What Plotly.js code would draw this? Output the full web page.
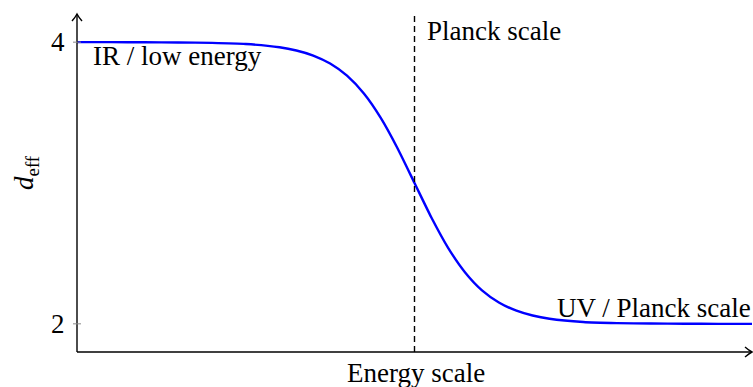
<!DOCTYPE html>
<html>
<head>
<meta charset="utf-8">
<script src="https://cdn.plot.ly/plotly-3.0.1.min.js"></script>
<style>html,body{margin:0;padding:0;background:#fff;}#chart{width:753px;height:387px;}</style>
</head>
<body>
<div id="chart"></div>
<script>
// Energy scale (arbitrary units) and effective dimension
const energy = [0, 0.5, 1, 1.5, 2, 2.5, 3, 3.25, 3.5, 3.75, 4, 4.25, 4.5, 4.75, 5, 5.25, 5.5, 5.75, 6, 6.25, 6.5, 6.75, 7, 7.5, 8, 8.5, 9, 9.5, 10];
const dEff   = [4.000, 4.000, 3.999, 3.998, 3.995, 3.987, 3.964, 3.941, 3.905, 3.848, 3.762, 3.635, 3.462, 3.245, 3.000, 2.755, 2.538, 2.365, 2.238, 2.152, 2.095, 2.059, 2.036, 2.013, 2.005, 2.002, 2.001, 2.000, 2.000];
const plancklineX = 5;
const yTicks = [4, 2];
const yTickLabels = ['4', '2'];
const xRange = [0, 10];
const yRange = [1.8, 4.2];

const serif = '"Times New Roman", "Liberation Serif", serif';
const fs = 27;

const traces = [{
  x: energy, y: dEff, type: 'scatter', mode: 'lines',
  line: {color: '#0000ff', width: 2.4, shape: 'spline', smoothing: 0.6},
  cliponaxis: false, hoverinfo: 'skip', showlegend: false
}, {
  x: [plancklineX, plancklineX], y: yRange, type: 'scatter', mode: 'lines',
  line: {color: '#000', width: 1.4, dash: '6px,4px'},
  cliponaxis: false, hoverinfo: 'skip', showlegend: false
}];

const axisLine = {color: '#000', width: 1.4};
const shapes = [
  {type: 'line', xref: 'paper', yref: 'paper', x0: 0, x1: 1, y0: 0, y1: 0, line: axisLine},
  {type: 'line', xref: 'paper', yref: 'paper', x0: 0, x1: 0, y0: 0, y1: 1, line: axisLine},
  {type: 'path', xref: 'paper', yref: 'paper', xsizemode: 'pixel', ysizemode: 'pixel', xanchor: 1, yanchor: 0,
   path: 'M-7,5 Q-3,1.5 0,0 Q-3,-1.5 -7,-5', line: axisLine},
  {type: 'path', xref: 'paper', yref: 'paper', xsizemode: 'pixel', ysizemode: 'pixel', xanchor: 0, yanchor: 1,
   path: 'M-5,-7 Q-1.5,-3 0,0 Q1.5,-3 5,-7', line: axisLine}
].concat(yTicks.map(v => ({
  type: 'line', xref: 'paper', yref: 'y', xsizemode: 'pixel', xanchor: 0,
  x0: -4, x1: 4, y0: v, y1: v, line: {color: '#888', width: 1}
})));

const annotations = [
  {xref: 'paper', yref: 'paper', x: 0.5, y: 0, yshift: -21, xshift: 1, text: 'Energy scale', showarrow: false,
   xanchor: 'center', yanchor: 'middle', font: {family: serif, size: fs, color: '#000'}},
  {xref: 'paper', yref: 'paper', x: 0, y: 0.5, xshift: -51, yshift: 10, text: '<i>d</i><sub>eff</sub>', showarrow: false,
   textangle: -90, xanchor: 'center', yanchor: 'middle', font: {family: serif, size: fs, color: '#000'}},
  {xref: 'paper', yref: 'y', x: 0, y: 4, xshift: 14, yshift: -14, text: 'IR / low energy', showarrow: false,
   xanchor: 'left', yanchor: 'middle', font: {family: serif, size: fs, color: '#000'}},
  {xref: 'x', yref: 'paper', x: plancklineX, y: 1, xshift: 10, yshift: -17, text: 'Planck scale', showarrow: false,
   xanchor: 'left', yanchor: 'middle', font: {family: serif, size: fs, color: '#000'}},
  {xref: 'paper', yref: 'y', x: 1, y: 2, xshift: 1, yshift: 16, text: 'UV / Planck scale', showarrow: false,
   xanchor: 'right', yanchor: 'middle', font: {family: serif, size: fs, color: '#000'}}
];
yTicks.forEach((v, i) => annotations.push({
  xref: 'paper', yref: 'y', x: 0, y: v, xshift: -10, text: yTickLabels[i], showarrow: false,
  xanchor: 'right', yanchor: 'middle', font: {family: serif, size: fs, color: '#000'}
}));

const layout = {
  width: 753, height: 387,
  margin: {l: 77, r: 1, t: 14, b: 35, pad: 0},
  paper_bgcolor: '#fff', plot_bgcolor: '#fff',
  showlegend: false,
  xaxis: {range: xRange, showgrid: false, zeroline: false, showline: false, showticklabels: false, ticks: ''},
  yaxis: {range: yRange, showgrid: false, zeroline: false, showline: false, showticklabels: false, ticks: ''},
  shapes: shapes,
  annotations: annotations
};

Plotly.newPlot('chart', traces, layout, {staticPlot: true, displayModeBar: false});
</script>
</body>
</html>
